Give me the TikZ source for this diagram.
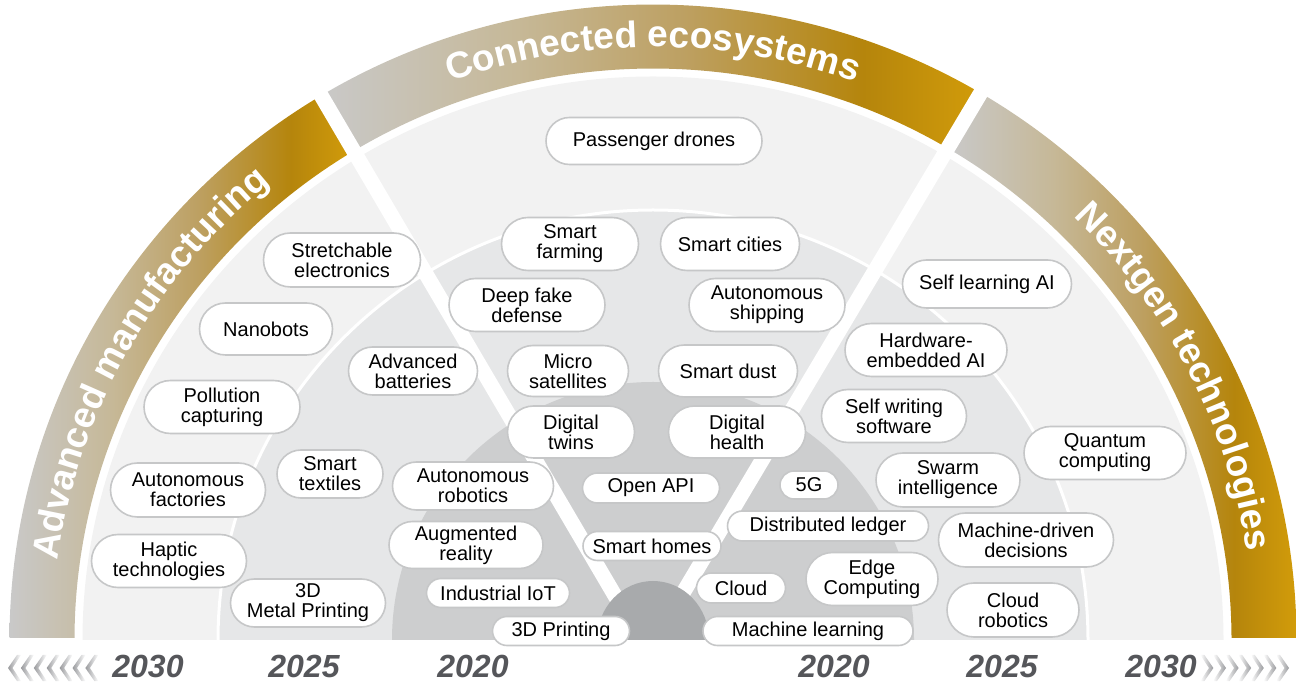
\documentclass[tikz,border=0pt]{standalone}
\usepackage{fontspec}
\setmainfont{Liberation Sans}
\usetikzlibrary{shapes.misc,decorations.text}

\definecolor{ringA}{HTML}{F2F2F2}
\definecolor{ringB}{HTML}{E6E7E8}
\definecolor{ringC}{HTML}{CDCECF}
\definecolor{ringD}{HTML}{A8AAAC}
\definecolor{pillline}{HTML}{C6C7C8}
\definecolor{yearcol}{HTML}{55565A}
\definecolor{gA}{HTML}{C9C9C9}
\definecolor{gB}{HTML}{C6B897}
\definecolor{gC}{HTML}{BDA062}
\definecolor{gD}{HTML}{B5850C}
\definecolor{gE}{HTML}{D29C0A}
\definecolor{chev}{HTML}{9A9B9E}

\pgfdeclarehorizontalshading{goldband}{100bp}{color(0bp)=(gA); color(25bp)=(gA); color(40bp)=(gB); color(52.5bp)=(gC); color(66bp)=(gD); color(75bp)=(gE); color(100bp)=(gE)}

\newcommand{\bandfnt}{\fontsize{37}{37}\selectfont\bfseries}

\tikzset{
  pill/.style={rounded rectangle, draw=pillline, line width=1.6pt, fill=white,
    inner sep=0pt, align=center, text=black, font=\fontsize{20}{20}\selectfont},
  yearlbl/.style={font=\fontsize{32}{32}\selectfont\bfseries\itshape, text=yearcol, inner sep=0pt},
  bandtext/.style={decorate, decoration={text along path, text align=center, text color=white,
    text={|\bandfnt|#1}}}
}

\begin{document}
\begin{tikzpicture}[x=1pt,y=1pt]
\useasboundingbox (0,0) rectangle (1297,682);
\coordinate (C) at (653,42);

% rings
\begin{scope}
  \clip (0,42) rectangle (1297,682);
  \fill[ringA] (C) ellipse [x radius=570.5, y radius=563.5];
  \fill[ringB] (C) ellipse [x radius=435, y radius=430];
  \draw[white, line width=3pt] (C) ellipse [x radius=435, y radius=430];
  \fill[ringC] (C) ellipse [x radius=261, y radius=258];
\end{scope}

% bands
\begin{scope}
  \clip (0,44.5) rectangle (1297,682);
  \begin{scope}[shift={(653,42)}]
    \shade[shading=goldband] (180:643.5 and 635.5) arc[start angle=180, end angle=121.3, x radius=643.5, y radius=635.5]
      -- (121.3:578.5 and 571.5) arc[start angle=121.3, end angle=180, x radius=578.5, y radius=571.5] -- cycle;
    \shade[shading=goldband] (121.3:643.5 and 635.5) arc[start angle=121.3, end angle=59.2, x radius=643.5, y radius=635.5]
      -- (59.2:578.5 and 571.5) arc[start angle=59.2, end angle=121.3, x radius=578.5, y radius=571.5] -- cycle;
    \shade[shading=goldband] (59.2:643.5 and 635.5) arc[start angle=59.2, end angle=0, x radius=643.5, y radius=635.5]
      -- (0:578.5 and 571.5) arc[start angle=0, end angle=59.2, x radius=578.5, y radius=571.5] -- cycle;
  \end{scope}
\end{scope}

% gaps
\coordinate (gl0) at (641,42);
\coordinate (gl1) at (265,682);
\coordinate (gr0) at (655,42);
\coordinate (gr1) at (1036,682);
\draw[white, line width=15pt] (gl0) -- (gl1);
\draw[white, line width=15pt] (gr0) -- (gr1);

% centre
\begin{scope}
  \clip (0,42) rectangle (1297,682);
  \fill[ringD] (C) ellipse [x radius=56, y radius=59];
\end{scope}

% band labels
\begin{scope}[shift={(653,42)}]
  \path[bandtext=Connected ecosystems] (120:600.5 and 593) arc[start angle=120, end angle=60, x radius=600.5, y radius=593];
  \path[bandtext=Advanced manufacturing] (181:600.5 and 593) arc[start angle=181, end angle=121, x radius=600.5, y radius=593];
  \path[bandtext=Nextgen technologies] (57:600.5 and 593) arc[start angle=57, end angle=-3, x radius=600.5, y radius=593];
\end{scope}

% items
\node[pill, minimum width=216pt, minimum height=47pt] (pd) at (654,541) {Passenger drones};
\node[pill, minimum width=137pt, minimum height=53pt] (sf) at (570,438) {Smart\\farming};
\node[pill, minimum width=139pt, minimum height=53pt] (sc) at (730,438) {Smart cities};
\node[pill, minimum width=156pt, minimum height=53pt] (df) at (527,377) {Deep fake\\defense};
\node[pill, minimum width=156pt, minimum height=53pt] (as) at (767,377) {Autonomous\\shipping};
\node[pill, minimum width=157pt, minimum height=54pt] (se) at (342,422) {Stretchable\\electronics};
\node[pill, minimum width=133pt, minimum height=52pt] (nb) at (266,353) {Nanobots};
\node[pill, minimum width=169pt, minimum height=48pt] (sl) at (987,398) {Self learning AI};
\node[pill, minimum width=162pt, minimum height=53pt] (he) at (926,332) {Hardware-\\embedded AI};
\node[pill, minimum width=129pt, minimum height=48pt] (ab) at (413,311) {Advanced\\batteries};
\node[pill, minimum width=121pt, minimum height=51pt] (ms) at (568,311) {Micro\\satellites};
\node[pill, minimum width=139pt, minimum height=52pt] (sd) at (728,311) {Smart dust};
\node[pill, minimum width=156pt, minimum height=53pt] (pc) at (222,275) {Pollution\\capturing};
\node[pill, minimum width=145pt, minimum height=53pt] (sw) at (894,266) {Self writing\\software};
\node[pill, minimum width=127pt, minimum height=52pt] (dt) at (571,250) {Digital\\twins};
\node[pill, minimum width=137pt, minimum height=52pt] (dh) at (737,250) {Digital\\health};
\node[pill, minimum width=162pt, minimum height=53pt] (qc) at (1105,229) {Quantum\\computing};
\node[pill, minimum width=106pt, minimum height=48pt] (st) at (330,208) {Smart\\textiles};
\node[pill, minimum width=155pt, minimum height=54pt] (af) at (188,192) {Autonomous\\factories};
\node[pill, minimum width=161pt, minimum height=48pt] (ar) at (473,196) {Autonomous\\robotics};
\node[pill, minimum width=137pt, minimum height=30pt] (oa) at (651,194) {Open API};
\node[pill, minimum width=58pt, minimum height=28pt] (fg) at (809,197) {5G};
\node[pill, minimum width=144pt, minimum height=54pt] (si) at (948,202) {Swarm\\intelligence};
\node[pill, minimum width=201pt, minimum height=30pt] (dl) at (828,156) {Distributed ledger};
\node[pill, minimum width=175pt, minimum height=54pt] (md) at (1026,142) {Machine-driven\\decisions};
\node[pill, minimum width=154pt, minimum height=47pt] (aug) at (466,137) {Augmented\\reality};
\node[pill, minimum width=138pt, minimum height=29pt] (sh) at (652,136) {Smart homes};
\node[pill, minimum width=155pt, minimum height=53pt] (ht) at (169,121) {Haptic\\technologies};
\node[pill, minimum width=132pt, minimum height=53pt] (ec) at (872,103) {Edge\\Computing};
\node[pill, minimum width=89pt, minimum height=30pt] (cl) at (741,94) {Cloud};
\node[pill, minimum width=143pt, minimum height=29pt] (iot) at (498,89) {Industrial IoT};
\node[pill, minimum width=155pt, minimum height=48pt] (mp) at (308,79) {3D\\Metal Printing};
\node[pill, minimum width=132pt, minimum height=54pt] (cr) at (1013,72) {Cloud\\robotics};
\node[pill, minimum width=137pt, minimum height=29pt] (p3) at (561,51) {3D Printing};
\node[pill, minimum width=210pt, minimum height=29pt] (ml) at (808,51) {Machine learning};

% years
\node[yearlbl] (yl30) at (148,15.5) {2030};
\node[yearlbl] (yl25) at (304,15.5) {2025};
\node[yearlbl] (yl20) at (473,15.5) {2020};
\node[yearlbl] (yr20) at (834,15.5) {2020};
\node[yearlbl] (yr25) at (1002,15.5) {2025};
\node[yearlbl] (yr30) at (1161,15.5) {2030};

% chevrons
\foreach \i in {0,...,6}{
  \pgfmathsetmacro{\xa}{8+12.9*\i}
  \shade[left color=chev, right color=white]
    (\xa,14) -- (\xa+9,27) -- (\xa+13,27) -- (\xa+4.5,14) -- (\xa+13,1) -- (\xa+9,1) -- cycle;
  \pgfmathsetmacro{\xb}{1289-12.6*\i}
  \shade[right color=chev, left color=white]
    (\xb,14) -- (\xb-9,27) -- (\xb-13,27) -- (\xb-4.5,14) -- (\xb-13,1) -- (\xb-9,1) -- cycle;
}
\end{tikzpicture}
\end{document}
